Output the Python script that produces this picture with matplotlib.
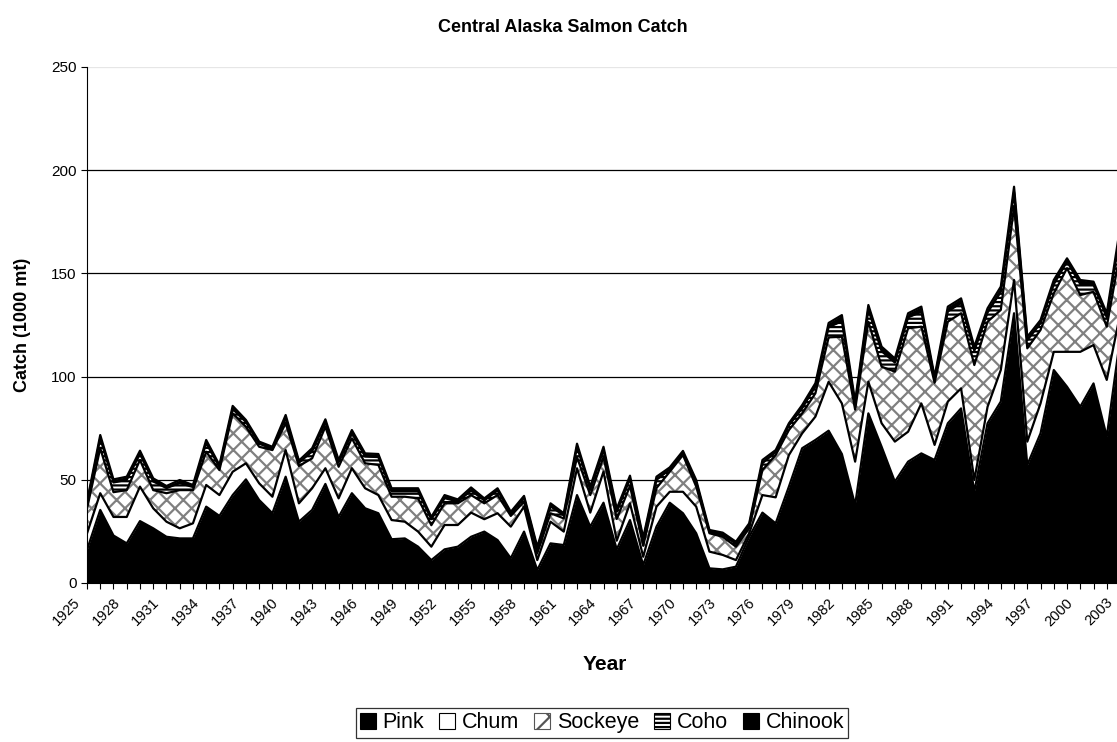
import numpy as np
import matplotlib
matplotlib.use("Agg")
import matplotlib.pyplot as plt
import matplotlib.transforms as mtransforms
from matplotlib.patches import Patch

plt.rcParams["font.family"] = ["Liberation Sans", "DejaVu Sans"]
plt.rcParams["hatch.linewidth"] = 1.6

# catch by species, 1000 mt, 1925-2003
years = list(range(1925, 2004))
pink = [16, 35.4, 23, 19.2, 30, 26.5, 22.4, 21.6, 21.6, 37,
        32.5, 42.6, 50.2, 40.2, 33.8, 51.5, 29.7, 35.4, 48, 32,
        43.5, 36.2, 33.8, 21.2, 21.6, 17.6, 11.1, 16.3, 17.6, 22.4,
        24.9, 20.8, 12, 24.9, 6.3, 19.2, 18.4, 42.6, 27.3, 38.9,
        16.3, 30.5, 8.7, 27.3, 38.9, 33.8, 24.1, 7.1, 6.6, 7.9,
        22.4, 34.1, 28.9, 46.7, 65.3, 69.3, 73.8, 62.5, 37.8, 82.2,
        66, 49.1, 58.8, 62.8, 59.6, 77.4, 84.6, 44.3, 77.4, 87.9,
        130.7, 57.2, 72.5, 103.2, 95.1, 85.4, 96.7, 70.9, 118]
chum = [8, 8.1, 9, 12.8, 16.7, 9.7, 7.3, 4.9, 7.3, 10.5,
        10.1, 11.3, 7.8, 8.1, 8, 12.9, 8.9, 10.5, 7.6, 9,
        12.1, 9.7, 8.8, 9.3, 8.1, 7.3, 6.5, 11.8, 10.5, 11.7,
        6, 13, 15.3, 12.1, 4.8, 10.5, 6.5, 13, 6.8, 15.1,
        4.2, 8.1, 4, 9.7, 5.3, 10.4, 12.9, 8.1, 7, 3.2,
        1.7, 8.5, 12.6, 15.3, 7.2, 11.3, 23.7, 24.5, 21, 15.3,
        11.4, 19.4, 14.5, 24.2, 7.3, 10.5, 9.7, 5.6, 8, 15.3,
        16.1, 11.3, 14.5, 8.8, 16.9, 26.6, 18.6, 27.5, 12]
sockeye = [12, 21.8, 12, 13, 12.9, 8.8, 13.8, 18.5, 16.1, 16.1,
           12.1, 28.3, 17.7, 17.7, 22.6, 13, 18.1, 14.5, 20.1, 15.3,
           14.5, 12.1, 14.6, 11.3, 12.1, 16.1, 10.4, 10.5, 10.5, 8.5,
           7.7, 8.8, 5.2, 2.4, 3.3, 4.1, 6.4, 5.4, 8.5, 7,
           10.5, 8.4, 5.3, 9, 9.7, 17.8, 9.7, 8.9, 8.8, 6.5,
           2.4, 12.1, 20.5, 12.1, 9.7, 11.3, 21.5, 32.3, 25.2, 29.1,
           27.4, 33.9, 50.1, 37.2, 30.1, 38.7, 36.4, 55.7, 41.2, 29.1,
           35.5, 45.2, 35.6, 28.3, 40.5, 27.5, 25.8, 25.8, 30]
coho = [2.4, 4.9, 4.7, 5, 3, 4.2, 2.5, 3.4, 1.5, 4.2,
        1.5, 2.1, 2.3, 1.5, 0.6, 2.5, 1.6, 3.4, 2.1, 2.3,
        2.5, 3.3, 3.8, 2.6, 2.6, 3.4, 2.9, 2.5, 0.9, 2.2,
        1.4, 2.3, 1.0, 1.8, 2.2, 3.3, 1.5, 5, 2.6, 3.5,
        3.5, 3.5, 3, 4, 1.1, 1.0, 2.2, 0.6, 1.0, 1.4,
        1.4, 3.4, 1.4, 2.3, 2.5, 3.4, 5, 7.5, 2.5, 6,
        7.5, 4.4, 5.3, 7.2, 2, 5, 5, 6.9, 4.5, 8.8,
        7.2, 4, 3.3, 4.5, 3.3, 5.3, 3.4, 4.5, 9]
chinook = [1.0, 1.5, 1.5, 1.5, 1.5, 1.5, 1.0, 1.5, 1.0, 1.5,
           1.0, 1.5, 1.0, 1.0, 1.0, 1.5, 1.0, 1.5, 1.5, 1.0,
           1.5, 1.5, 1.5, 1.5, 1.5, 1.5, 1.1, 1.5, 1.0, 1.5,
           1.0, 1.0, 1.0, 1.0, 1.0, 1.5, 1.0, 1.5, 1.5, 1.5,
           1.5, 1.5, 1.0, 1.5, 1.0, 1.0, 1.0, 1.0, 1.0, 1.0,
           1.0, 1.5, 1.0, 1.0, 1.5, 1.5, 2, 3, 1.5, 2.1,
           2.2, 2, 2, 2.5, 1, 2.3, 2.2, 2, 2, 2.5,
           2.5, 1.6, 1.5, 2, 1.5, 2, 1.5, 2, 3]

species = ["Pink", "Chum", "Sockeye", "Coho", "Chinook"]
series = [pink, chum, sockeye, coho, chinook]
faces = ["black", "white", "white", "white", "black"]
hatches = [None, None, "xx", "----", None]
hatch_cols = ["black", "black", "#808080", "black", "black"]

fig = plt.figure(figsize=(11.17, 7.42), dpi=100)
ax = fig.add_axes([87 / 1117, 159 / 742, 1033 / 1117, 516 / 742])

x = np.array(years)
base = np.zeros(len(years))
for name, vals, fc, h, hc in zip(species, series, faces, hatches, hatch_cols):
    top = base + np.array(vals)
    ax.fill_between(x, base, top, facecolor=fc, hatch=h, edgecolor=hc,
                    linewidth=0, zorder=2)
    ax.plot(x, top, color="black", lw=1.6, zorder=3)
    base = top

ax.set_xlim(1925, 2003)
ax.set_ylim(0, 250)
ax.set_yticks([0, 50, 100, 150, 200, 250])
for v in [50, 100, 150, 200]:
    ax.axhline(v, color="black", lw=0.9, zorder=1)
ax.axhline(250, color="#e6e6e6", lw=0.9, zorder=1)

ax.set_xticks(years[::3])
ax.set_xticks(years, minor=True)
ax.tick_params(axis="x", which="both", direction="out", length=4, width=0.8,
               colors="black", pad=5)
ax.tick_params(axis="y", direction="out", length=4, width=0.8, labelsize=11)
ax.set_xticklabels([str(y) for y in years[::3]], rotation=45, ha="right",
                   va="top", fontsize=10.5)
# nudge the slanted year labels a bit left so the last one stays in view
shift = mtransforms.ScaledTranslation(-3 / 72, 0, fig.dpi_scale_trans)
for lab in ax.get_xticklabels():
    lab.set_transform(lab.get_transform() + shift)
for s in ["top", "right"]:
    ax.spines[s].set_visible(False)
ax.spines["left"].set_linewidth(0.8)
ax.spines["bottom"].set_linewidth(0.8)
ax.spines["bottom"].set_zorder(4)

fig.text(0.504, 0.963, "Central Alaska Salmon Catch", ha="center", va="center",
         fontsize=13, fontweight="bold")
fig.text(0.541, 0.104, "Year", ha="center", va="center",
         fontsize=15, fontweight="bold")
fig.text(0.02, 0.562, "Catch (1000 mt)", ha="center", va="center",
         rotation=90, fontsize=13, fontweight="bold")

handles = [Patch(facecolor=fc, hatch=h, edgecolor="black", linewidth=0.8)
           for fc, h in zip(faces, hatches)]
handles[2] = Patch(facecolor="white", hatch="x", edgecolor="#555555", linewidth=0.8)
leg = fig.legend(handles, species, loc="lower center", bbox_to_anchor=(0.539, 0.0),
                 ncol=5, frameon=True, fancybox=False, edgecolor="black",
                 handlelength=0.75, handleheight=0.75, handletextpad=0.3,
                 columnspacing=0.7, fontsize=15.5, borderpad=0.2, borderaxespad=0.2)
leg.get_frame().set_linewidth(0.9)

fig.savefig("out.png", dpi=100)
